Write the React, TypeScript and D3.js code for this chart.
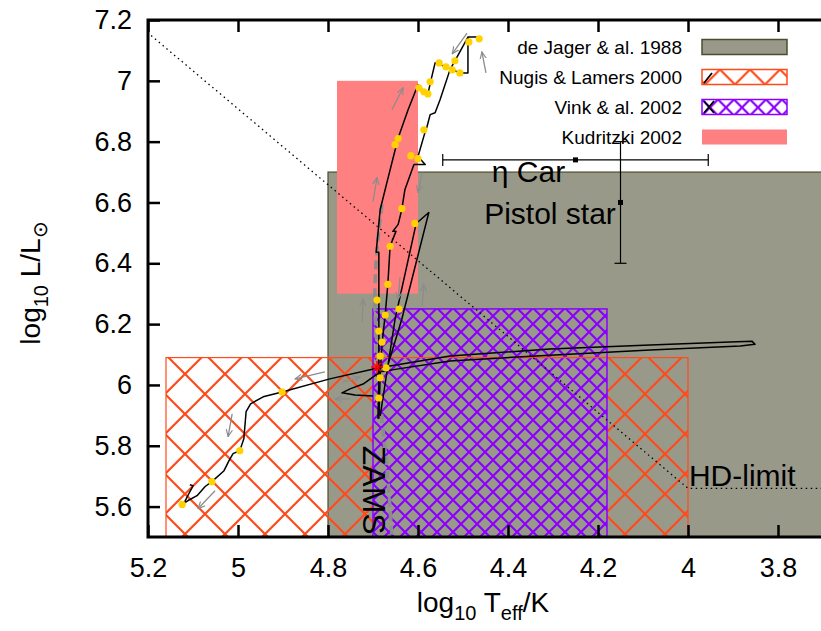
import React, { useRef, useEffect } from "react";
import * as d3 from "d3";

const X_TICKS = [5.2, 5, 4.8, 4.6, 4.4, 4.2, 4, 3.8];
const Y_TICKS = [5.6, 5.8, 6, 6.2, 6.4, 6.6, 6.8, 7, 7.2];

const LEGEND_NAMES = ["de Jager & al. 1988", "Nugis & Lamers 2000", "Vink & al. 2002", "Kudritzki 2002"];

// mass-loss validity boxes: [logT hot edge, logT cool edge, logL low, logL high]
const DE_JAGER = [4.8, 3.6, 5.4, 6.7];
const NUGIS = [5.16, 4.0, 5.4, 6.09];
const VINK = [4.7, 4.18, 5.4, 6.25];
const KUDRITZKI = [4.78, 4.6, 6.3, 7.0];

// Humphreys-Davidson limit
const HD_LIMIT = [[5.21, 7.17], [4.0, 5.66], [3.6, 5.66]];

// zero age main sequence
const ZAMS = [[4.68, 6.593], [4.691, 6.446], [4.696, 6.282], [4.691, 6.118], [4.68, 5.889], [4.667, 5.692], [4.658, 5.5]];

// evolutionary track pieces [logT, logL]
const TRACK_RISE = [
  [4.689, 5.889], [4.687, 6.02], [4.687, 6.177], [4.687, 6.308], [4.687, 6.436], [4.693, 6.436],
  [4.684, 6.577], [4.669, 6.666], [4.644, 6.813], [4.622, 6.905], [4.6, 6.987], [4.587, 6.964],
  [4.578, 6.957], [4.571, 7.003], [4.562, 7.059], [4.538, 7.046], [4.507, 7.026], [4.489, 7.026],
  [4.489, 7.144], [4.467, 7.144],
];
const TRACK_FALL = [
  [4.489, 7.144], [4.529, 7.036], [4.551, 6.938], [4.562, 6.895], [4.573, 6.889], [4.58, 6.849],
  [4.584, 6.833], [4.6, 6.751], [4.584, 6.725], [4.609, 6.725], [4.629, 6.643], [4.636, 6.577],
  [4.644, 6.528], [4.656, 6.505], [4.649, 6.505], [4.662, 6.456], [4.667, 6.331], [4.673, 6.23],
  [4.68, 6.134], [4.684, 6.036], [4.687, 5.889],
];
const TRACK_SPIKE = [
  [4.684, 5.898], [4.651, 6.216], [4.604, 6.531], [4.576, 6.567], [4.636, 6.216], [4.671, 6.046],
];
const TRACK_LOOP = [
  [4.7, 5.964], [4.74, 5.967], [4.769, 5.974], [4.751, 5.987], [4.722, 6.003], [4.684, 6.043],
  [4.647, 6.052], [4.529, 6.079], [4.307, 6.098], [4.084, 6.115], [3.884, 6.128], [3.851, 6.134],
  [3.858, 6.144], [3.907, 6.141], [4.084, 6.131], [4.307, 6.118], [4.529, 6.095], [4.689, 6.056],
  [4.796, 6.02], [4.902, 5.977], [4.944, 5.961], [4.972, 5.938], [4.982, 5.912], [4.987, 5.823],
  [4.996, 5.784], [5.011, 5.774], [5.02, 5.751], [5.031, 5.718], [5.058, 5.682], [5.073, 5.666],
  [5.091, 5.636], [5.111, 5.62], [5.124, 5.607], [5.118, 5.617], [5.109, 5.643], [5.102, 5.662],
  [5.1, 5.669], [5.107, 5.672],
];
const TRACKS = [TRACK_RISE, TRACK_FALL, TRACK_SPIKE, TRACK_LOOP];

// yellow time markers
const MARKS = [
  [4.464, 7.138], [4.487, 7.128], [4.518, 7.066], [4.553, 7.059], [4.538, 7.046], [4.524, 7.036],
  [4.507, 7.026], [4.573, 6.997], [4.598, 6.977], [4.587, 6.964], [4.578, 6.957], [4.587, 6.839],
  [4.644, 6.81], [4.651, 6.79], [4.616, 6.754], [4.6, 6.744], [4.636, 6.58], [4.607, 6.531],
  [4.662, 6.456], [4.667, 6.331], [4.691, 6.279], [4.673, 6.23], [4.642, 6.249], [4.687, 6.177],
  [4.68, 6.141], [4.684, 6.095], [4.671, 6.056], [4.684, 6.023], [4.687, 5.957], [4.902, 5.977],
  [4.996, 5.784], [5.058, 5.682], [5.124, 5.607],
];

// grey direction arrows [logT0, logL0, logT1, logL1]
const ARROWS = [
  [4.491, 7.157, 4.524, 7.089], [4.449, 7.026, 4.458, 7.095], [4.658, 6.905, 4.633, 6.977],
  [4.7, 6.603, 4.691, 6.682], [4.591, 6.698, 4.6, 6.633], [4.724, 6.207, 4.722, 6.282],
  [4.64, 6.354, 4.644, 6.282], [4.591, 6.259, 4.587, 6.331], [4.807, 6.043, 4.873, 6.02],
  [5.013, 5.905, 5.022, 5.83], [5.051, 5.652, 5.089, 5.593], [4.767, 6.01, 4.729, 6.026],
  [4.751, 5.954, 4.784, 5.954],
];

const ZAMS_STAR = [4.691, 6.059];
const ETA_CAR = [4.25, 6.74];
const ETA_CAR_T_ERR = 0.295;
const PISTOL = [4.15, 6.6];
const PISTOL_L_ERR = 0.2;

const FONT = "'Liberation Sans', Arial, Helvetica, sans-serif";

function HRDiagram() {
  const svgRef = useRef(null);

  useEffect(() => {
    const width = 821;
    const height = 631;
    const svg = d3.select(svgRef.current);
    svg.attr("width", width).attr("height", height);
    svg.selectAll("*").remove();

    const x = d3.scaleLinear().domain([5.2, 3.7]).range([148, 823]);
    const y = d3.scaleLinear().domain([5.5, 7.2]).range([537, 20]);

    const defs = svg.append("defs");
    defs.append("clipPath").attr("id", "plot-clip")
      .append("rect").attr("x", 148).attr("y", 20).attr("width", 680).attr("height", 517);

    const hatch = (id, size, color, shift) => {
      const p = defs.append("pattern").attr("id", id)
        .attr("patternUnits", "userSpaceOnUse")
        .attr("width", size).attr("height", size)
        .attr("patternTransform", `translate(${shift[0]},${shift[1]})`);
      p.append("path")
        .attr("d", `M${-size / 4},${-size / 4}L${size * 1.25},${size * 1.25}M${size * 1.25},${-size / 4}L${-size / 4},${size * 1.25}`)
        .attr("stroke", color).attr("stroke-width", 2.2).attr("fill", "none");
    };
    hatch("nugis", 40, "#ff4a1a", [25, 14]);
    hatch("vink", 16, "#8a00ff", [5, 4]);
    hatch("nugis-key", 30, "#ff4a1a", [705, 54.5]);
    hatch("vink-key", 16, "#8a00ff", [702, 99.5]);

    defs.append("marker").attr("id", "arrow")
      .attr("viewBox", "0 0 10 10").attr("refX", 9).attr("refY", 5)
      .attr("markerWidth", 6).attr("markerHeight", 6).attr("orient", "auto")
      .append("path").attr("d", "M0,1L9,5L0,9").attr("fill", "none")
      .attr("stroke", "#8c8c8c").attr("stroke-width", 1.5);

    const plot = svg.append("g").attr("clip-path", "url(#plot-clip)");

    const box = (b) => ({
      x: x(b[0]), y: y(b[3]), w: x(b[1]) - x(b[0]), h: y(b[2]) - y(b[3]),
    });

    // de Jager box
    const dj = box(DE_JAGER);
    plot.append("rect").attr("x", dj.x).attr("y", dj.y).attr("width", dj.w).attr("height", dj.h)
      .attr("fill", "#99998a").attr("stroke", "#4d4d2e").attr("stroke-width", 1.2);

    // Kudritzki box
    const ku = box(KUDRITZKI);
    plot.append("rect").attr("x", ku.x).attr("y", ku.y).attr("width", ku.w).attr("height", ku.h)
      .attr("fill", "#ff8080");

    // Nugis & Lamers box
    const nl = box(NUGIS);
    plot.append("rect").attr("x", nl.x).attr("y", nl.y).attr("width", nl.w).attr("height", nl.h)
      .attr("fill", "url(#nugis)");

    // Vink box
    const vk = box(VINK);
    plot.append("rect").attr("x", vk.x).attr("y", vk.y).attr("width", vk.w).attr("height", vk.h)
      .attr("fill", "#99998a");
    plot.append("rect").attr("x", vk.x).attr("y", vk.y).attr("width", vk.w).attr("height", vk.h)
      .attr("fill", "url(#vink)");

    plot.append("rect").attr("x", nl.x).attr("y", nl.y).attr("width", nl.w).attr("height", nl.h)
      .attr("fill", "none").attr("stroke", "#ff4a1a").attr("stroke-width", 1.2);
    plot.append("rect").attr("x", vk.x).attr("y", vk.y).attr("width", vk.w).attr("height", vk.h)
      .attr("fill", "none").attr("stroke", "#8a00ff").attr("stroke-width", 1.5);

    const line = d3.line().x(d => x(d[0])).y(d => y(d[1]));

    // HD limit
    plot.append("path").attr("d", line(HD_LIMIT)).attr("fill", "none")
      .attr("stroke", "#000").attr("stroke-width", 1.3).attr("stroke-dasharray", "1.5,3.5");

    // ZAMS
    plot.append("path").attr("d", d3.line().curve(d3.curveMonotoneY).x(d => x(d[0])).y(d => y(d[1]))(ZAMS))
      .attr("fill", "none").attr("stroke", "#8c8c8c").attr("stroke-width", 3.5)
      .attr("stroke-dasharray", "9,5");

    // tracks
    plot.selectAll("path.track").data(TRACKS).join("path").attr("class", "track")
      .attr("d", d => line(d)).attr("fill", "none")
      .attr("stroke", "#000").attr("stroke-width", 1.5).attr("stroke-linejoin", "round");

    // arrows
    plot.selectAll("line.arrow").data(ARROWS).join("line").attr("class", "arrow")
      .attr("x1", d => x(d[0])).attr("y1", d => y(d[1]))
      .attr("x2", d => x(d[2])).attr("y2", d => y(d[3]))
      .attr("stroke", "#8c8c8c").attr("stroke-width", 1.3)
      .attr("marker-end", "url(#arrow)");

    // markers
    plot.selectAll("circle.mark").data(MARKS).join("circle").attr("class", "mark")
      .attr("cx", d => x(d[0])).attr("cy", d => y(d[1])).attr("r", 3.6)
      .attr("fill", "#ffd200");

    // ZAMS star
    const sx = x(ZAMS_STAR[0]);
    const sy = y(ZAMS_STAR[1]);
    const star = plot.append("g").attr("transform", `translate(${sx},${sy})`)
      .attr("stroke", "#ff0000").attr("stroke-width", 1.5);
    [0, 45, 90, 135].forEach(a => {
      star.append("line").attr("x1", -6).attr("x2", 6).attr("y1", 0).attr("y2", 0)
        .attr("transform", `rotate(${a})`);
    });

    // eta Car with horizontal error bar
    const ex = x(ETA_CAR[0]);
    const ey = y(ETA_CAR[1]);
    const ex0 = x(ETA_CAR[0] + ETA_CAR_T_ERR);
    const ex1 = x(ETA_CAR[0] - ETA_CAR_T_ERR);
    const eb = plot.append("g").attr("stroke", "#000").attr("stroke-width", 1.2);
    eb.append("line").attr("x1", ex0).attr("x2", ex1).attr("y1", ey).attr("y2", ey);
    eb.append("line").attr("x1", ex0).attr("x2", ex0).attr("y1", ey - 6).attr("y2", ey + 6);
    eb.append("line").attr("x1", ex1).attr("x2", ex1).attr("y1", ey - 6).attr("y2", ey + 6);
    plot.append("rect").attr("x", ex - 2.5).attr("y", ey - 2.5).attr("width", 5).attr("height", 5).attr("fill", "#000");

    // Pistol star with vertical error bar
    const px = x(PISTOL[0]);
    const py = y(PISTOL[1]);
    const py0 = y(PISTOL[1] + PISTOL_L_ERR);
    const py1 = y(PISTOL[1] - PISTOL_L_ERR);
    const pb = plot.append("g").attr("stroke", "#000").attr("stroke-width", 1.2);
    pb.append("line").attr("x1", px).attr("x2", px).attr("y1", py0).attr("y2", py1);
    pb.append("line").attr("x1", px - 6).attr("x2", px + 6).attr("y1", py0).attr("y2", py0);
    pb.append("line").attr("x1", px - 6).attr("x2", px + 6).attr("y1", py1).attr("y2", py1);
    plot.append("rect").attr("x", px - 2.5).attr("y", py - 2.5).attr("width", 5).attr("height", 5).attr("fill", "#000");

    // annotations
    const label = (txt, t, l) => plot.append("text").attr("x", x(t)).attr("y", y(l))
      .attr("font-family", FONT).attr("font-size", 30).attr("fill", "#000").text(txt);
    label("η Car", 4.436, 6.666);
    label("Pistol star", 4.453, 6.529);
    label("HD-limit", 3.998, 5.669);
    plot.append("text")
      .attr("transform", `translate(${x(4.722)},${y(5.8)}) rotate(90)`)
      .attr("font-family", FONT).attr("font-size", 32).attr("fill", "#000").text("ZAMS");

    // legend
    const lg = svg.append("g").attr("font-family", FONT).attr("font-size", 19);
    LEGEND_NAMES.forEach((name, i) => {
      const cy = 47 + i * 30;
      lg.append("text").attr("x", 682).attr("y", cy).attr("dy", "0.35em")
        .attr("text-anchor", "end").attr("fill", "#000").text(name);
      const sw = lg.append("rect").attr("x", 702).attr("y", cy - 7.5).attr("width", 85).attr("height", 15);
      if (i === 0) sw.attr("fill", "#99998a").attr("stroke", "#4d4d2e").attr("stroke-width", 1.5);
      if (i === 1) {
        sw.attr("fill", "#fff");
        lg.append("rect").attr("x", 702).attr("y", cy - 7.5).attr("width", 85).attr("height", 15)
          .attr("fill", "url(#nugis-key)").attr("stroke", "#ff4a1a").attr("stroke-width", 1.5);
        lg.append("line").attr("x1", 704).attr("y1", cy + 6).attr("x2", 712).attr("y2", cy - 4)
          .attr("stroke", "#000").attr("stroke-width", 1.8);
      }
      if (i === 2) {
        sw.attr("fill", "#fff");
        lg.append("rect").attr("x", 702).attr("y", cy - 7.5).attr("width", 85).attr("height", 15)
          .attr("fill", "url(#vink-key)").attr("stroke", "#8a00ff").attr("stroke-width", 1.5);
        lg.append("path").attr("d", `M704,${cy - 6}L714,${cy + 6}M714,${cy - 6}L704,${cy + 6}`)
          .attr("stroke", "#000").attr("stroke-width", 1.8);
      }
      if (i === 3) sw.attr("fill", "#ff8080");
    });

    // axes
    const fmt = d3.format("~g");
    const yAxis = svg.append("g").attr("transform", "translate(148,0)")
      .call(d3.axisLeft(y).tickValues(Y_TICKS).tickSize(-12).tickPadding(16).tickFormat(fmt));
    const xAxis = svg.append("g").attr("transform", "translate(0,537)")
      .call(d3.axisBottom(x).tickValues(X_TICKS).tickSize(-12).tickPadding(16).tickFormat(fmt));
    const xTop = svg.append("g").attr("transform", "translate(0,20)")
      .call(d3.axisTop(x).tickValues(X_TICKS).tickSize(-12).tickFormat(() => ""));
    [yAxis, xAxis, xTop].forEach(a => {
      a.select(".domain").remove();
      a.selectAll(".tick line").attr("stroke", "#000").attr("stroke-width", 2.5);
      a.selectAll(".tick text").attr("font-family", FONT).attr("font-size", 27).attr("fill", "#000");
    });
    xAxis.selectAll(".tick text").attr("dy", "0.9em");

    // frame
    svg.append("path").attr("d", "M148,20L823,20M148,18.5L148,538.5M148,537L823,537")
      .attr("stroke", "#000").attr("stroke-width", 3).attr("fill", "none");

    // axis titles
    const yt = svg.append("text").attr("transform", "translate(40,283) rotate(-90)")
      .attr("text-anchor", "middle").attr("font-family", FONT).attr("font-size", 28).attr("fill", "#000");
    yt.append("tspan").text("log");
    yt.append("tspan").attr("dy", 8).attr("font-size", 20).text("10");
    yt.append("tspan").attr("dy", -8).text(" L/L");
    yt.append("tspan").attr("dy", 7).attr("font-size", 20).text("⊙");

    const xt = svg.append("text").attr("x", 483).attr("y", 612)
      .attr("text-anchor", "middle").attr("font-family", FONT).attr("font-size", 28).attr("fill", "#000");
    xt.append("tspan").text("log");
    xt.append("tspan").attr("dy", 8).attr("font-size", 20).text("10");
    xt.append("tspan").attr("dy", -8).text(" T");
    xt.append("tspan").attr("dy", 8).attr("font-size", 20).text("eff");
    xt.append("tspan").attr("dy", -8).text("/K");
  }, []);

  return <svg ref={svgRef} style={{ position: "absolute", left: 0, top: 0 }}></svg>;
}

export default function App() {
  return <HRDiagram />;
}
